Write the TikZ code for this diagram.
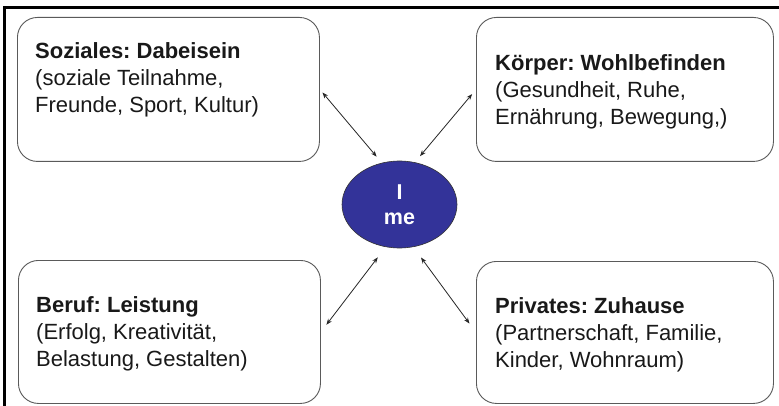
\documentclass[tikz,border=0pt]{standalone}
\usepackage{fontspec}
\setmainfont{Liberation Sans}
\usetikzlibrary{shapes.geometric,arrows.meta}
\definecolor{meblue}{RGB}{51,51,153}
\definecolor{boxline}{RGB}{90,90,90}
\definecolor{txt}{RGB}{25,25,25}
\newcommand{\topstrut}{\rule{0pt}{20pt}}
\frenchspacing
\begin{document}
\begin{tikzpicture}[x=1pt,y=-1pt,
  areabox/.style={draw=boxline, line width=0.9pt, fill=white, rounded corners=20pt,
    minimum width=302pt, minimum height=144pt, inner sep=0pt, anchor=north west},
  areatext/.style={anchor=north west, inner sep=0pt, align=left, text=txt,
    font=\fontsize{22}{27}\selectfont},
  link/.style={{Stealth[length=6pt,width=4.5pt]}-{Stealth[length=6pt,width=4.5pt]}, line width=0.8pt, black!85},
  frame/.style={line width=2.3pt, black}]
\useasboundingbox (0,0) rectangle (779,406);
\fill[white] (0,0) rectangle (779,406);
% frame
\coordinate (f1) at (3,7.5);
\coordinate (f2) at (779,7.5);
\coordinate (f3) at (4.5,6.5);
\coordinate (f4) at (4.5,406);
\draw[frame] (f1) -- (f2);
\draw[frame] (f3) -- (f4);
% boxes
\node[areabox] (tl) at (17,17) {};
\node[areabox, minimum width=297pt] (tr) at (476,17) {};
\node[areabox, minimum height=143pt] (bl) at (18,260) {};
\node[areabox, minimum width=297pt, minimum height=142pt] (br) at (476,261) {};
% texts
\node[areatext] (tlt) at (35,38) {\topstrut\textbf{Soziales: Dabeisein}\\(soziale Teilnahme,\\Freunde, Sport, Kultur)};
\node[areatext] (trt) at (495,50) {\topstrut\textbf{Körper: Wohlbefinden}\\(Gesundheit, Ruhe,\\Ernährung, Bewegung,)};
\node[areatext] (blt) at (36,292) {\topstrut\textbf{Beruf: Leistung}\\(Erfolg, Kreativität,\\Belastung, Gestalten)};
\node[areatext] (brt) at (495,293) {\topstrut\textbf{Privates: Zuhause}\\(Partnerschaft, Familie,\\Kinder, Wohnraum)};
% centre
\node[ellipse, draw=black!80, line width=0.6pt, fill=meblue, minimum width=115pt, minimum height=87pt,
  inner sep=0pt, text=white, align=center, font=\fontsize{21.5}{25.5}\selectfont\bfseries] (me) at (399.5,204.5) {I\\me};
% connectors
\draw[link, shorten <=4pt, shorten >=8pt] (tl.east) -- (me.113);
\draw[link, shorten <=8pt, shorten >=6pt] (me.70) -- (tr.west);
\draw[link, shorten <=9pt, shorten >=13pt] (bl.east) -- (me.252);
\draw[link, shorten <=13pt, shorten >=11pt] (me.288) -- (br.west);
\end{tikzpicture}
\end{document}
